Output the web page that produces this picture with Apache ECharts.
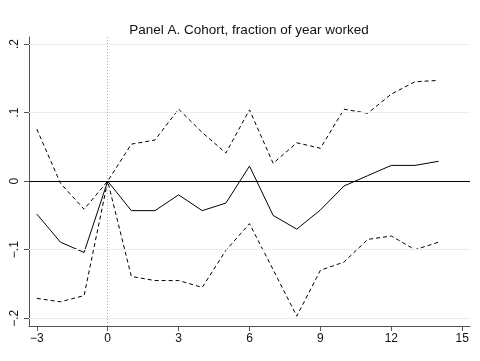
<!DOCTYPE html>
<html>
<head>
<meta charset="utf-8">
<script src="https://cdn.jsdelivr.net/npm/echarts@6/dist/echarts.min.js"></script>
<style>
  html, body { margin: 0; padding: 0; background: #fff; }
  #chart { width: 480px; height: 361px; }
</style>
</head>
<body>
<div id="chart"></div>
<script>
// Event time (years relative to event)
const years = [-3, -2, -1, 0, 1, 2, 3, 4, 5, 6, 7, 8, 9, 10, 11, 12, 13, 14];
// Point estimates and 95% confidence bounds
const estimate = [-0.048, -0.089, -0.104, 0, -0.043, -0.043, -0.020, -0.043, -0.032, 0.022, -0.050, -0.070, -0.042, -0.007, 0.008, 0.023, 0.023, 0.029];
const upperCI = [0.076, -0.003, -0.041, 0, 0.054, 0.060, 0.105, 0.071, 0.041, 0.104, 0.026, 0.056, 0.048, 0.105, 0.099, 0.127, 0.145, 0.147];
const lowerCI = [-0.171, -0.176, -0.167, 0, -0.139, -0.145, -0.145, -0.155, -0.101, -0.062, -0.129, -0.197, -0.130, -0.118, -0.085, -0.080, -0.100, -0.089];
// Axis ticks
const xTicks = [-3, 0, 3, 6, 9, 12, 15];
const yTicks = [-0.2, -0.1, 0, 0.1, 0.2];
const titleText = 'Panel A. Cohort, fraction of year worked';

const pairs = arr => years.map((x, i) => [x, arr[i]]);
const fmtY = v => {
  if (Math.abs(v) < 1e-9) return '0';
  const s = Math.abs(v).toFixed(1).replace(/^0/, '');
  return (v < 0 ? '\u2212' : '') + s;
};

const chart = echarts.init(document.getElementById('chart'), null, { renderer: 'canvas' });
chart.setOption({
  animation: false,
  backgroundColor: '#ffffff',
  title: {
    text: titleText,
    left: 244,
    textAlign: 'center',
    top: 18,
    textStyle: { fontFamily: 'Liberation Sans, Arial, sans-serif', fontSize: 13.5, fontWeight: 'normal', color: '#111' }
  },
  grid: { left: 29, right: 10, top: 37, bottom: 35 },
  xAxis: {
    type: 'value',
    min: -3.33,
    max: 15.33,
    axisLine: { show: true, onZero: false, lineStyle: { color: '#555', width: 1 } },
    axisTick: { show: true, length: 5, customValues: xTicks, lineStyle: { color: '#555' } },
    axisLabel: {
      customValues: xTicks,
      margin: 7,
      fontFamily: 'Liberation Sans, Arial, sans-serif', fontSize: 12, color: '#111',
      formatter: v => (v < 0 ? '\u2212' + Math.abs(v) : String(v))
    },
    splitLine: { show: false }
  },
  yAxis: {
    type: 'value',
    min: -0.2113,
    max: 0.2103,
    axisLine: { show: true, onZero: false, lineStyle: { color: '#555', width: 1 } },
    axisTick: { show: true, length: 5, customValues: yTicks, lineStyle: { color: '#555' } },
    axisLabel: {
      customValues: yTicks,
      rotate: 90,
      margin: 8,
      fontFamily: 'Liberation Sans, Arial, sans-serif', fontSize: 12, color: '#111',
      formatter: fmtY
    },
    splitLine: { show: false }
  },
  series: [
    {
      // light horizontal gridlines at the y ticks
      type: 'line', data: [], silent: true,
      markLine: {
        silent: true, symbol: 'none', label: { show: false },
        lineStyle: { color: '#e6eef0', width: 1, type: 'solid' },
        data: yTicks.filter(v => v !== 0).map(v => ({ yAxis: v }))
      }
    },
    {
      type: 'line', data: [], silent: true,
      markLine: {
        silent: true, symbol: 'none', label: { show: false },
        data: [
          { xAxis: 0, lineStyle: { color: '#aaa', width: 1, type: [1, 2] } },
          { yAxis: 0, lineStyle: { color: '#000', width: 1, type: 'solid' } }
        ]
      }
    },
    {
      name: 'upper', type: 'line', data: pairs(upperCI), showSymbol: false,
      lineStyle: { color: '#000', width: 1, type: [4, 3] }
    },
    {
      name: 'lower', type: 'line', data: pairs(lowerCI), showSymbol: false,
      lineStyle: { color: '#000', width: 1, type: [4, 3] }
    },
    {
      name: 'estimate', type: 'line', data: pairs(estimate), showSymbol: false,
      lineStyle: { color: '#000', width: 1, type: 'solid' }
    }
  ]
});
</script>
</body>
</html>
